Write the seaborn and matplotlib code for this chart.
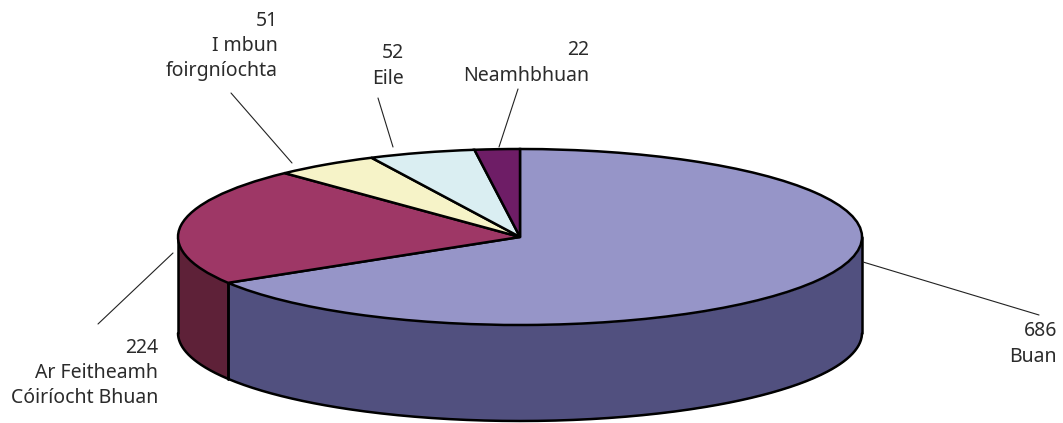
import numpy as np
import matplotlib
matplotlib.use("Agg")
import matplotlib.pyplot as plt
import seaborn as sns

categories = ["Buan", "Ar Feitheamh\nCóiríocht Bhuan", "I mbun\nfoirgníochta", "Eile", "Neamhbhuan"]
values = [686, 224, 51, 52, 22]
top_colors = ["#9695C8", "#9E3766", "#F6F3C8", "#DAEEF2", "#6E1D66"]
side_colors = ["#51507F", "#5E2138", "#A09D80", "#8BA0A5", "#400F3C"]

W, H = 1063, 423
CX, CY, RX, RY, DEPTH = 520, 237, 342, 88, 96
EDGE_LW = 1.8

sns.set_theme(style="white")
plt.rcParams["font.family"] = ["Noto Sans", "DejaVu Sans"]

fig = plt.figure(figsize=(W / 100, H / 100), dpi=100, facecolor="white")
ax = fig.add_axes([0, 0, 1, 1])

# unit-circle pie, squashed into an ellipse by the axis limits
x0, x1 = -CX / RX, (W - CX) / RX
y0, y1 = (CY - H) / RY, CY / RY
depth = DEPTH / RY

frac = np.array(values, dtype=float) / sum(values)
edges = 90 - 360 * np.concatenate([[0], np.cumsum(frac)])  # clockwise from 12 o'clock

# side wall: only the front half of the rim is visible
for i in range(len(values)):
    a_start, a_end = edges[i + 1], edges[i]
    t = np.radians(np.linspace(a_start, a_end, 400))
    t = t[np.sin(t) <= 0]
    if t.size < 2:
        continue
    xs, ys = np.cos(t), np.sin(t)
    ax.fill_between(xs, ys, ys - depth, color=side_colors[i], lw=0, zorder=1)
    ax.plot(xs, ys - depth, color="black", lw=EDGE_LW, zorder=2, solid_capstyle="round")
    for xe, ye in ((xs[0], ys[0]), (xs[-1], ys[-1])):
        ax.plot([xe, xe], [ye, ye - depth], color="black", lw=EDGE_LW, zorder=2)

ax.pie(values, colors=top_colors, startangle=90, counterclock=False, radius=1,
       wedgeprops=dict(edgecolor="black", linewidth=EDGE_LW, zorder=3),
       normalize=True, frame=True)

ax.set_aspect("auto")
ax.set_xlim(x0, x1)
ax.set_ylim(y0, y1)
ax.set_xticks([])
ax.set_yticks([])
ax.set_axis_off()


def px(x, y):
    return (x - CX) / RX, (CY - y) / RY


# leader lines (start, end) and text anchors, in picture pixels
leaders = [((863, 262), (1039, 315)), ((173, 253), (98, 324)),
           ((292, 163), (231, 93)), ((393, 147), (378, 98)), ((499, 147), (518, 89))]
anchors = [(1057, 344), (158, 373), (278, 46), (404, 66), (589, 63)]
for i, (cat, val) in enumerate(zip(categories, values)):
    a, b = leaders[i]
    p, q = px(*a), px(*b)
    ax.plot([p[0], q[0]], [p[1], q[1]], color="#222222", lw=0.8, zorder=4)
    tx, ty = px(*anchors[i])
    ax.text(tx, ty, f"{val}\n{cat}", ha="right", va="center", fontsize=14,
            color="#2b2b2b", linespacing=1.36, zorder=5)

fig.savefig("out.png", dpi=100, facecolor="white")
